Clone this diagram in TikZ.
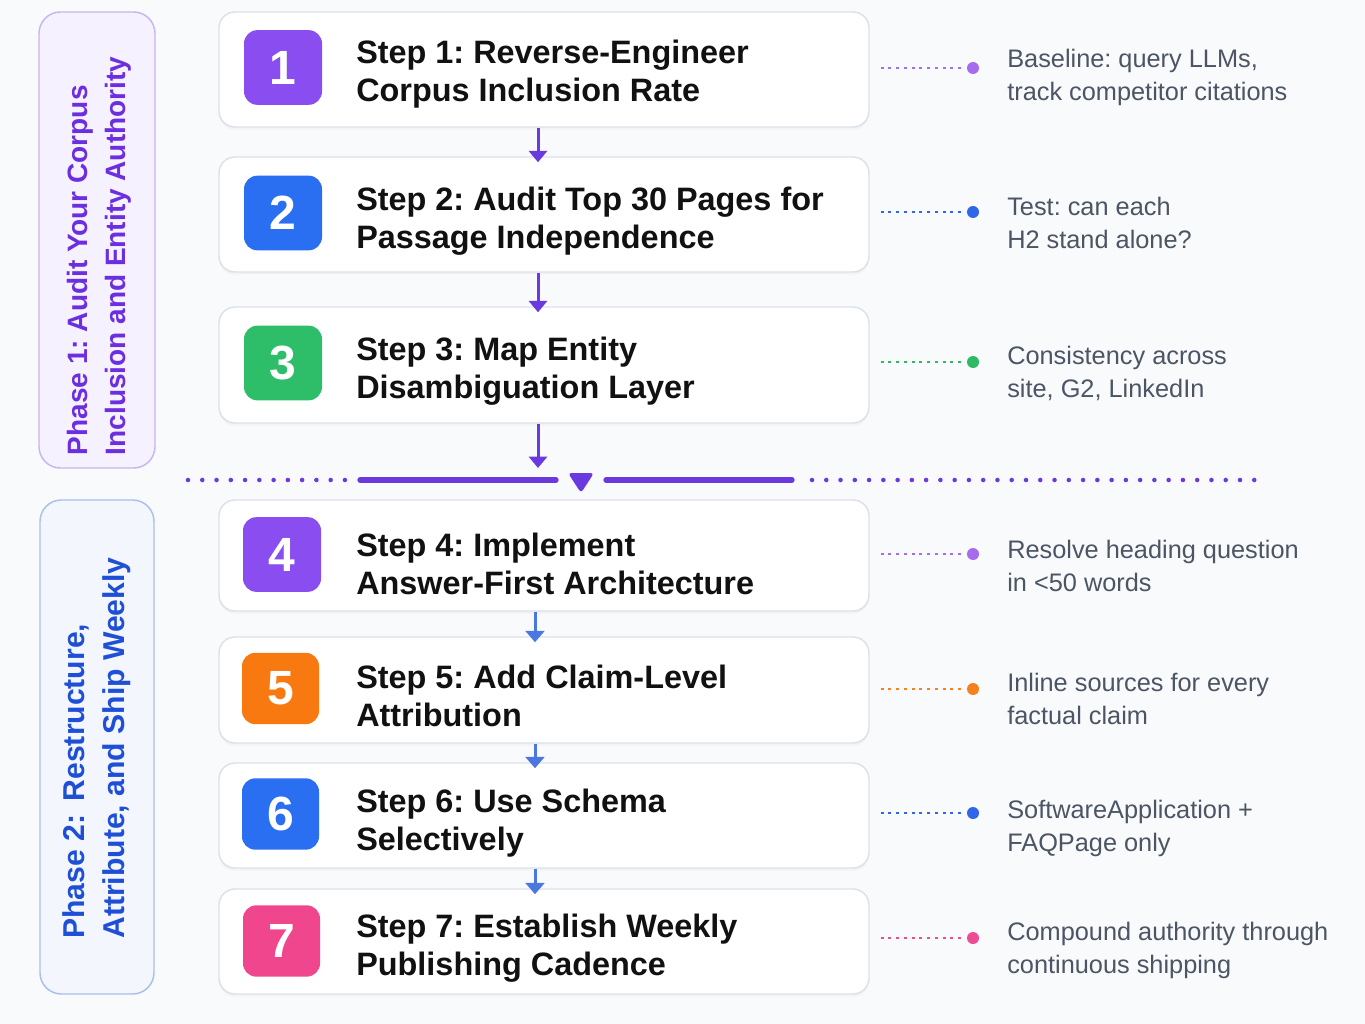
\documentclass[tikz,border=0pt]{standalone}
\usepackage{fontspec}
\setmainfont{Liberation Sans}
\usetikzlibrary{arrows.meta,shadows,calc}
\definecolor{bgc}{HTML}{F9FAFC}
\definecolor{cardline}{HTML}{DDE1E9}
\definecolor{titlec}{HTML}{111111}
\definecolor{notec}{HTML}{4B5563}
\definecolor{purpleb}{HTML}{8A4DF0}
\definecolor{blueb}{HTML}{2A6EF2}
\definecolor{greenb}{HTML}{2EBE6A}
\definecolor{orangeb}{HTML}{F8790F}
\definecolor{pinkb}{HTML}{F0468E}
\definecolor{purpled}{HTML}{A66CEE}
\definecolor{blued}{HTML}{2F67E8}
\definecolor{greend}{HTML}{2DBA64}
\definecolor{oranged}{HTML}{F5801E}
\definecolor{pinkd}{HTML}{EC4C92}
\definecolor{phaseonetext}{HTML}{6B2EE0}
\definecolor{phaseonefill}{HTML}{F6F1FE}
\definecolor{phaseoneline}{HTML}{C9B5F0}
\definecolor{phasetwotext}{HTML}{1E4FD6}
\definecolor{phasetwofill}{HTML}{F3F6FD}
\definecolor{phasetwoline}{HTML}{A9C0EA}
\definecolor{divc}{HTML}{6A3AE0}
\definecolor{arrtwo}{HTML}{4A78E0}
\tikzset{
  card/.style={draw=cardline, line width=1.1pt, fill=white, rounded corners=12pt,
    minimum width=487.5pt, drop shadow={opacity=0.05, shadow xshift=0pt, shadow yshift=-2pt}},
  badge/.style={rounded corners=10pt, minimum width=58.5pt, minimum height=56pt, inner sep=0pt,
    text=white, font=\fontsize{36}{36}\selectfont\bfseries},
  badgeb/.style={badge, minimum width=57.75pt, minimum height=53.5pt},
  steptitle/.style={anchor=west, align=left, inner sep=0pt, text=titlec,
    font=\fontsize{24.3}{28.5}\selectfont\bfseries},
  notetext/.style={anchor=west, align=left, inner sep=0pt, text=notec,
    font=\fontsize{19}{24.75}\selectfont},
  phasebox/.style={rounded corners=16pt, line width=1.1pt},
  phasetext/.style={rotate=90, align=left, inner sep=0pt, font=\fontsize{21}{28.5}\selectfont\bfseries},
  conn/.style={line width=1.5pt, dash pattern=on 2.2pt off 3.6pt, shorten <=8.25pt, shorten >=3pt},
  enddot/.style={circle, inner sep=0pt, minimum size=9pt},
  arrone/.style={draw=divc, line width=2.25pt, shorten >=-4.5pt, -{Triangle[width=13.5pt,length=8.5pt]}},
  arrtwo/.style={draw=arrtwo, line width=2.25pt, shorten >=-4.5pt, -{Triangle[width=14pt,length=8.5pt]}},
}
\begin{document}
\frenchspacing
\begin{tikzpicture}[x=0.75pt,y=-0.75pt]
\useasboundingbox (0,0) rectangle (1365,1024);
\fill[bgc] (0,0) rectangle (1365,1024);

% phase boxes
\node[phasebox, draw=phaseoneline, fill=phaseonefill, minimum width=87pt, minimum height=342pt] (p1) at (97,240) {};
\node[phasetext, text=phaseonetext] (p1t) at (99,256) {Phase 1: Audit Your Corpus\\Inclusion and Entity Authority};
\node[phasebox, draw=phasetwoline, fill=phasetwofill, minimum width=85.5pt, minimum height=370.5pt] (p2) at (97,747) {};
\node[phasetext, text=phasetwotext, font=\fontsize{22.6}{30}\selectfont\bfseries] (p2t) at (97,748) {Phase 2: \,Restructure,\\Attribute, and Ship Weekly};

% cards
\node[card, minimum height=86.25pt] (c1) at (544,69.5) {};
\node[card, minimum height=86.25pt] (c2) at (544,214.5) {};
\node[card, minimum height=87pt] (c3) at (544,365) {};
\node[card, minimum height=83.25pt] (c4) at (544,555.5) {};
\node[card, minimum height=79.5pt] (c5) at (544,690) {};
\node[card, minimum height=78.75pt] (c6) at (544,815.5) {};
\node[card, minimum height=78.75pt] (c7) at (544,941.5) {};

% badges
\node[badge, fill=purpleb] (b1) at (283,67.5) {1};
\node[badge, fill=blueb] (b2) at (283,213) {2};
\node[badge, fill=greenb] (b3) at (283,363) {3};
\node[badge, fill=purpleb] (b4) at (282,554.5) {4};
\node[badgeb, fill=orangeb] (b5) at (280.5,688.5) {5};
\node[badgeb, fill=blueb] (b6) at (280.5,814) {6};
\node[badgeb, fill=pinkb] (b7) at (281.5,941) {7};

% titles
\node[steptitle] (t1) at (356,74) {Step 1: Reverse-Engineer\\Corpus Inclusion Rate};
\node[steptitle] (t2) at (356,221) {Step 2: Audit Top 30 Pages for\\Passage Independence};
\node[steptitle] (t3) at (356,371) {Step 3: Map Entity\\Disambiguation Layer};
\node[steptitle] (t4) at (356,564) {Step 4: Implement\\Answer-First Architecture};
\node[steptitle] (t5) at (356,696) {Step 5: Add Claim-Level\\Attribution};
\node[steptitle] (t6) at (356,823) {Step 6: Use Schema\\Selectively};
\node[steptitle] (t7) at (356,948) {Step 7: Establish Weekly\\Publishing Cadence};

% arrows between cards
\coordinate (ax1) at (538,0);
\coordinate (ax2) at (535,0);
\draw[arrone] (c1.south -| ax1) -- (c2.north -| ax1);
\draw[arrone] (c2.south -| ax1) -- (c3.north -| ax1);
\draw[arrtwo] (c4.south -| ax2) -- (c5.north -| ax2);
\draw[arrtwo] (c5.south -| ax2) -- (c6.north -| ax2);
\draw[arrtwo] (c6.south -| ax2) -- (c7.north -| ax2);

% divider
\coordinate (dv) at (581,480);
\draw[divc, line width=3.4pt, line cap=round, dash pattern=on 0pt off 10.7pt] (188,480) -- (346,480);
\draw[divc, line width=4pt, line cap=round] (360,480) -- (556,480);
\draw[divc, line width=4pt, line cap=round] (606,480) -- (792,480);
\draw[divc, line width=3.4pt, line cap=round, dash pattern=on 0pt off 10.7pt] (812,480) -- (1256,480);
\fill[divc, rounded corners=2.5pt] ($(dv)+(-13,-7)$) -- ($(dv)+(13,-7)$) -- ($(dv)+(0,13)$) -- cycle;
\draw[arrone, shorten >=0pt] (c3.south -| ax1) -- ($(ax1 |- dv)+(0,-12)$);

% right-hand dots and notes
\node[enddot, fill=purpled] (d1) at (973,68) {};
\node[enddot, fill=blued] (d2) at (973,212) {};
\node[enddot, fill=greend] (d3) at (973,362) {};
\node[enddot, fill=purpled] (d4) at (973,554) {};
\node[enddot, fill=oranged] (d5) at (973,689) {};
\node[enddot, fill=blued] (d6) at (973,813) {};
\node[enddot, fill=pinkd] (d7) at (973,938) {};
\draw[conn, purpled] (c1.east |- d1) -- (d1.west);
\draw[conn, blued] (c2.east |- d2) -- (d2.west);
\draw[conn, greend] (c3.east |- d3) -- (d3.west);
\draw[conn, purpled] (c4.east |- d4) -- (d4.west);
\draw[conn, oranged] (c5.east |- d5) -- (d5.west);
\draw[conn, blued] (c6.east |- d6) -- (d6.west);
\draw[conn, pinkd] (c7.east |- d7) -- (d7.west);

\node[notetext] (n1) at (1007,77) {Baseline: query LLMs,\\track competitor citations};
\node[notetext] (n2) at (1007,223) {Test: can each\\H2 stand alone?};
\node[notetext] (n3) at (1007,373) {Consistency across\\site, G2, LinkedIn};
\node[notetext] (n4) at (1007,566) {Resolve heading question\\in <50 words};
\node[notetext] (n5) at (1007,699) {Inline sources for every\\factual claim};
\node[notetext] (n6) at (1007,828) {SoftwareApplication +\\FAQPage only};
\node[notetext] (n7) at (1007,950) {Compound authority through\\continuous shipping};
\end{tikzpicture}
\end{document}
